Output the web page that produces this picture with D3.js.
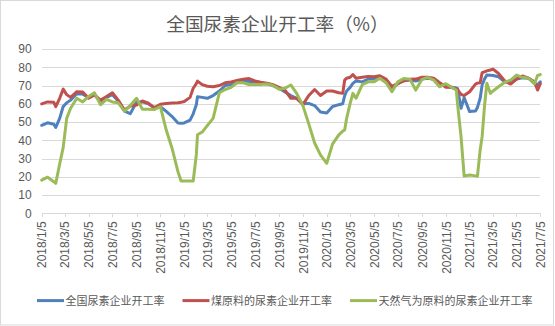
<!DOCTYPE html>
<html>
<head>
<meta charset="utf-8">
<script src="https://cdn.jsdelivr.net/npm/d3@7"></script>
<style>
  html, body { margin: 0; padding: 0; background: #ffffff; }
  svg { display: block; }
  text { fill: #595959; }
</style>
</head>
<body>
<svg id="chart" width="555" height="326"></svg>
<script>
// Urea plant operating rate, weekly-ish readings (%)
const chartTitle = "全国尿素企业开工率（%）";
const seriesNames = ["全国尿素企业开工率", "煤原料的尿素企业开工率", "天然气为原料的尿素企业开工率"];
const seriesColors = ["#4F81BD", "#C0504D", "#9BBB59"];

const dates = [
  "2018-01-05","2018-01-20","2018-02-05","2018-02-10","2018-02-20","2018-03-01","2018-03-10","2018-03-20",
  "2018-04-05","2018-04-20","2018-05-05","2018-05-20","2018-06-05","2018-06-20","2018-07-05","2018-07-20",
  "2018-08-05","2018-08-20","2018-09-05","2018-09-20","2018-10-05","2018-10-20","2018-11-05","2018-11-20",
  "2018-12-05","2018-12-20","2018-12-28","2019-01-05","2019-01-20","2019-01-28","2019-02-05","2019-02-08",
  "2019-02-20","2019-03-05","2019-03-20","2019-04-05","2019-04-20","2019-05-05","2019-05-20","2019-06-05",
  "2019-06-20","2019-07-05","2019-07-20","2019-08-05","2019-08-20","2019-09-05","2019-09-20","2019-10-05",
  "2019-10-20","2019-11-05","2019-11-20","2019-12-05","2019-12-20","2020-01-05","2020-01-20","2020-02-05",
  "2020-02-15","2020-02-20","2020-02-25","2020-03-05","2020-03-12","2020-03-20","2020-04-05","2020-04-20",
  "2020-05-05","2020-05-20","2020-06-05","2020-06-20","2020-07-05","2020-07-20","2020-08-05","2020-08-20",
  "2020-09-05","2020-09-20","2020-10-05","2020-10-20","2020-11-05","2020-11-20","2020-12-02","2020-12-05",
  "2020-12-14","2020-12-22","2021-01-05","2021-01-20","2021-01-25","2021-02-01","2021-02-06","2021-02-12",
  "2021-02-18","2021-02-27","2021-03-06","2021-03-20","2021-04-05","2021-04-20","2021-05-05","2021-05-20",
  "2021-06-05","2021-06-20","2021-06-28","2021-07-05"
];

const nationwide = [
  48.2, 49.6, 48.8, 47.0, 52.0, 58.5, 60.5, 62.0,
  65.5, 65.3, 63.5, 65.0, 61.0, 63.5, 65.0, 61.5,
  56.0, 54.6, 61.0, 61.0, 60.0, 58.0, 58.4, 55.8,
  53.0, 49.5, 49.3, 49.5, 51.0, 54.5, 59.5, 63.9,
  63.5, 63.0, 64.5, 67.0, 70.0, 70.5, 71.5, 72.3,
  72.3, 71.5, 71.3, 71.0, 70.0, 68.5, 66.5, 64.5,
  63.0, 60.0, 60.2, 59.0, 55.5, 55.0, 58.5, 59.5,
  60.0, 64.5, 67.0, 69.0, 71.2, 72.5, 72.0, 73.5,
  73.5, 74.0, 73.2, 68.0, 71.0, 72.8, 73.0, 72.5,
  73.5, 74.0, 73.5, 71.5, 69.5, 69.0, 68.6, 68.4,
  57.5, 63.3, 55.7, 56.0, 58.0, 63.0, 70.3, 73.5,
  75.7, 75.6, 75.5, 74.8, 72.0, 71.5, 73.5, 74.2,
  74.0, 71.0, 70.5, 72.0
];

const coalBased = [
  59.9, 61.0, 60.8, 58.4, 63.0, 68.0, 65.0, 63.5,
  66.6, 66.4, 63.0, 64.8, 62.0, 64.0, 66.0, 62.0,
  56.6, 58.8, 59.3, 61.5, 60.3, 57.8, 59.7, 60.2,
  60.4, 60.6, 60.8, 61.2, 63.5, 68.5, 71.0, 72.4,
  70.5, 69.6, 69.3, 70.0, 71.5, 72.0, 72.7, 73.5,
  73.8, 72.5, 71.8, 71.3, 70.5, 69.0, 67.5, 63.0,
  63.0, 59.5, 64.5, 67.8, 64.5, 67.0, 67.0, 66.0,
  65.7, 73.0, 74.0, 74.5, 76.0, 74.0, 74.5, 75.0,
  74.8, 75.3, 73.5, 69.5, 71.0, 72.5, 73.4, 73.5,
  74.5, 74.5, 74.0, 71.5, 69.0, 69.0, 68.0, 67.8,
  65.2, 64.5, 66.6, 70.8, 71.3, 71.5, 77.0, 77.5,
  78.0, 78.5, 79.0, 76.6, 72.5, 70.8, 73.5, 75.2,
  74.0, 72.0, 67.5, 71.0
];

const gasBased = [
  18.2, 19.8, 17.3, 16.4, 27.0, 36.0, 52.0, 57.5,
  63.0, 61.0, 64.0, 66.0, 59.5, 62.4, 61.0, 60.5,
  56.0, 59.0, 63.0, 57.0, 57.0, 56.8, 58.4, 45.6,
  35.5, 22.8, 17.7, 17.7, 17.7, 17.7, 32.0, 43.0,
  44.5, 48.0, 52.0, 66.0, 67.8, 69.0, 71.5, 71.5,
  70.5, 70.6, 70.6, 70.8, 70.0, 68.0, 68.5, 70.3,
  65.7, 59.0, 49.0, 38.5, 32.0, 27.4, 38.0, 43.0,
  45.0, 45.6, 52.0, 60.2, 65.7, 63.0, 70.5, 72.0,
  72.0, 74.0, 71.5, 66.6, 72.0, 73.8, 73.5, 67.5,
  73.4, 74.5, 73.0, 69.3, 71.0, 69.0, 67.5, 60.0,
  42.0, 20.4, 21.0, 20.5, 20.3, 34.7, 42.0, 58.4,
  71.2, 65.7, 67.0, 69.3, 71.8, 73.0, 75.7, 74.5,
  74.0, 71.0, 75.5, 76.0
];

const yTicks = [0, 10, 20, 30, 40, 50, 60, 70, 80, 90];
const xTickLabels = [
  "2018/1/5","2018/3/5","2018/5/5","2018/7/5","2018/9/5","2018/11/5",
  "2019/1/5","2019/3/5","2019/5/5","2019/7/5","2019/9/5","2019/11/5",
  "2020/1/5","2020/3/5","2020/5/5","2020/7/5","2020/9/5","2020/11/5",
  "2021/1/5","2021/3/5","2021/5/5","2021/7/5"
];

const parseDate = d3.timeParse("%Y-%m-%d");
const parseTick = d3.timeParse("%Y/%m/%d");
const dateValues = dates.map(parseDate);
const tickDates = xTickLabels.map(parseTick);
const tickLabelByTime = new Map(tickDates.map((d, i) => [+d, xTickLabels[i]]));

const numFont = "'Liberation Sans', Arial, 'Noto Sans CJK SC', sans-serif";
const cjkFont = "'Noto Sans CJK SC', 'Liberation Sans', sans-serif";

const svg = d3.select("#chart");

// outer chart frame
svg.append("rect")
  .attr("x", 0.5).attr("y", 0.5)
  .attr("width", 553).attr("height", 324.5)
  .attr("fill", "#ffffff")
  .attr("stroke", "#d9d9d9")
  .attr("stroke-width", 1);

const plot = { left: 41.7, right: 540.3, top: 49, bottom: 213.3 };

const x = d3.scaleTime()
  .domain([tickDates[0], tickDates[tickDates.length - 1]])
  .range([plot.left, plot.right]);

const y = d3.scaleLinear()
  .domain([0, 90])
  .range([plot.bottom, plot.top]);

// title
svg.append("text")
  .attr("x", 277.5)
  .attr("y", 31)
  .attr("text-anchor", "middle")
  .style("font-family", cjkFont)
  .style("font-size", "18.67px")
  .text(chartTitle);

// horizontal gridlines + y labels
const yAxis = d3.axisLeft(y)
  .tickValues(yTicks)
  .tickSize(-(plot.right - plot.left))
  .tickPadding(10)
  .tickFormat(d3.format("d"));

const yG = svg.append("g")
  .attr("transform", `translate(${plot.left},0)`)
  .call(yAxis);
yG.select(".domain").remove();
yG.selectAll(".tick line")
  .attr("stroke", "#d9d9d9")
  .attr("stroke-width", 1)
  .attr("shape-rendering", "crispEdges");
yG.selectAll(".tick text")
  .style("font-family", numFont)
  .style("font-size", "12px")
  .attr("fill", "#595959");

// x axis with rotated date labels
const xAxis = d3.axisBottom(x)
  .tickValues(tickDates)
  .tickSize(4)
  .tickPadding(0)
  .tickFormat(d => tickLabelByTime.get(+d));

const xG = svg.append("g")
  .attr("transform", `translate(0,${plot.bottom})`)
  .call(xAxis);
xG.select(".domain")
  .attr("stroke", "#d9d9d9")
  .attr("stroke-width", 1)
  .attr("shape-rendering", "crispEdges");
xG.selectAll(".tick line")
  .attr("stroke", "#d9d9d9")
  .attr("shape-rendering", "crispEdges");
xG.selectAll(".tick text")
  .style("font-family", numFont)
  .style("font-size", "12px")
  .attr("fill", "#595959")
  .attr("text-anchor", "end")
  .attr("transform", "translate(0,8) rotate(-90)")
  .attr("x", 0)
  .attr("y", 0)
  .attr("dy", "0.35em");

// series lines
const seriesValues = [nationwide, coalBased, gasBased];
const line = d3.line()
  .x(d => x(d.date))
  .y(d => y(d.value));

seriesValues.forEach((values, i) => {
  const pts = values.map((v, j) => ({ date: dateValues[j], value: v }));
  svg.append("path")
    .datum(pts)
    .attr("fill", "none")
    .attr("stroke", seriesColors[i])
    .attr("stroke-width", 3)
    .attr("stroke-linejoin", "round")
    .attr("stroke-linecap", "round")
    .attr("d", line);
});

// legend
const legend = svg.append("g").attr("transform", "translate(0,300.6)");
let cursor = 37;
seriesNames.forEach((name, i) => {
  legend.append("line")
    .attr("x1", cursor).attr("x2", cursor + 27)
    .attr("y1", 0).attr("y2", 0)
    .attr("stroke", seriesColors[i])
    .attr("stroke-width", 3);
  const t = legend.append("text")
    .attr("x", cursor + 28.5)
    .attr("y", 0)
    .attr("dy", "0.36em")
    .style("font-family", cjkFont)
    .style("font-size", "11px")
    .text(name);
  cursor += 28.5 + t.node().getComputedTextLength() + 18;
});
</script>
</body>
</html>
